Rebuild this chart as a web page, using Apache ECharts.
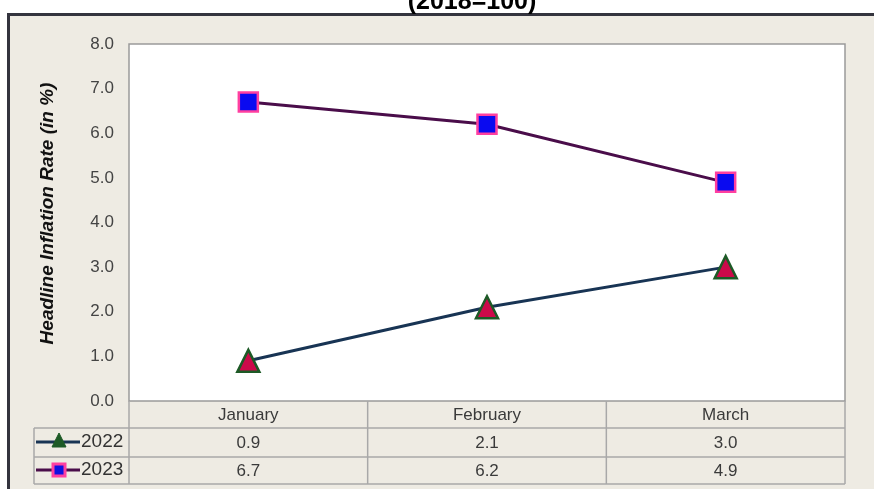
<!DOCTYPE html>
<html>
<head>
<meta charset="utf-8">
<script src="https://cdn.jsdelivr.net/npm/echarts@6/dist/echarts.min.js"></script>
<style>
  html, body { margin: 0; padding: 0; background: #ffffff; }
  #chart { width: 874px; height: 489px; }
</style>
</head>
<body>
<div id="chart"></div>
<script>
  // data
  var months = ['January', 'February', 'March'];
  var seriesNames = ['2022', '2023'];
  var values2022 = [0.9, 2.1, 3.0];
  var values2023 = [6.7, 6.2, 4.9];

  var chart = echarts.init(document.getElementById('chart'));

  var panelBg = '#eeebe3';
  var lineGrey = '#a8a8a8';
  var font = 'Liberation Sans, Arial';

  var option = {
    backgroundColor: '#ffffff',
    animation: false,
    title: {
      text: '(2018=100)',
      left: 467,
      top: -15,
      textAlign: 'center',
      textStyle: { fontFamily: font, fontWeight: 'bold', fontSize: 25, color: '#000' }
    },
    grid: {
      left: 129, right: 29, top: 44, bottom: 88,
      show: true, backgroundColor: '#ffffff', borderColor: '#9a9a9a', borderWidth: 1.5
    },
    xAxis: {
      type: 'category',
      data: months,
      axisLine: { show: false },
      axisTick: { show: false },
      axisLabel: {
        margin: 0,
        lineHeight: 28,
        fontFamily: font,
        fontSize: 17,
        color: '#3a3a3a',
        formatter: function (v, i) {
          return v + '\n' + values2022[i].toFixed(1) + '\n' + values2023[i].toFixed(1);
        }
      }
    },
    yAxis: {
      type: 'value',
      min: 0, max: 8, interval: 1,
      name: 'Headline Inflation Rate (in %)',
      nameLocation: 'middle',
      nameGap: 72,
      nameTextStyle: { fontFamily: font, fontSize: 19, fontWeight: 'bold', fontStyle: 'italic', color: '#111', padding: [0, 0, 0, 18] },
      axisLine: { show: false },
      axisTick: { show: false },
      splitLine: { show: false },
      axisLabel: {
        margin: 15,
        fontFamily: font,
        fontSize: 17,
        color: '#444',
        formatter: function (v) { return v.toFixed(1); }
      }
    },
    series: [
      {
        name: seriesNames[0],
        type: 'line',
        data: values2022,
        symbol: 'triangle',
        symbolSize: 22,
        lineStyle: { color: '#183454', width: 3 },
        itemStyle: { color: '#cc0a4a', borderColor: '#1d5a26', borderWidth: 2.5 },
        z: 3
      },
      {
        name: seriesNames[1],
        type: 'line',
        data: values2023,
        symbol: 'rect',
        symbolSize: 19,
        lineStyle: { color: '#4a0d4a', width: 3 },
        itemStyle: { color: '#0a0af0', borderColor: '#ff3fa0', borderWidth: 2.5 },
        z: 3
      }
    ]
  };

  chart.setOption(option);

  // frame, data table grid lines and legend keys
  function px(i) { return chart.convertToPixel({ xAxisIndex: 0 }, i); }
  var plotLeft = 129, plotRight = 845, tableTop = 401;
  var rowLines = [428, 457, 484];
  var half = (px(1) - px(0)) / 2;
  var g = [];

  g.push({ type: 'rect', z: -10, silent: true,
    shape: { x: 8.5, y: 14.5, width: 900, height: 520 },
    style: { fill: panelBg, stroke: '#34343e', lineWidth: 3 } });

  rowLines.forEach(function (y) {
    g.push({ type: 'line', z: 1, shape: { x1: 34, y1: y, x2: plotRight, y2: y },
      style: { stroke: lineGrey, lineWidth: 1.5 } });
  });
  var vx = [plotLeft];
  months.forEach(function (m, i) { vx.push(px(i) + half); });
  vx.forEach(function (x) {
    g.push({ type: 'line', z: 1, shape: { x1: x, y1: tableTop, x2: x, y2: rowLines[2] },
      style: { stroke: lineGrey, lineWidth: 1.5 } });
  });
  g.push({ type: 'line', z: 1, shape: { x1: 34, y1: rowLines[0], x2: 34, y2: rowLines[2] },
    style: { stroke: lineGrey, lineWidth: 1.5 } });

  var keys = [
    { y: 442, line: '#183454', sym: 'triangle', fill: '#1d5a26', stroke: '#1d5a26' },
    { y: 470, line: '#4a0d4a', sym: 'rect', fill: '#1010e0', stroke: '#ff3fa0' }
  ];
  keys.forEach(function (k, i) {
    g.push({ type: 'line', z: 2, shape: { x1: 36, y1: k.y, x2: 80, y2: k.y },
      style: { stroke: k.line, lineWidth: 3 } });
    if (k.sym === 'triangle') {
      g.push({ type: 'polygon', z: 3, shape: { points: [[59, k.y - 9], [52, k.y + 5], [66, k.y + 5]] },
        style: { fill: k.fill, stroke: k.stroke, lineWidth: 1 } });
    } else {
      g.push({ type: 'rect', z: 3, shape: { x: 53, y: k.y - 6, width: 12, height: 12 },
        style: { fill: k.fill, stroke: k.stroke, lineWidth: 3 } });
    }
    g.push({ type: 'text', z: 3, x: 81, y: k.y,
      style: { text: seriesNames[i], fontFamily: font, fontSize: 19, fill: '#333',
        verticalAlign: 'middle' } });
  });

  chart.setOption({ graphic: g });
</script>
</body>
</html>
